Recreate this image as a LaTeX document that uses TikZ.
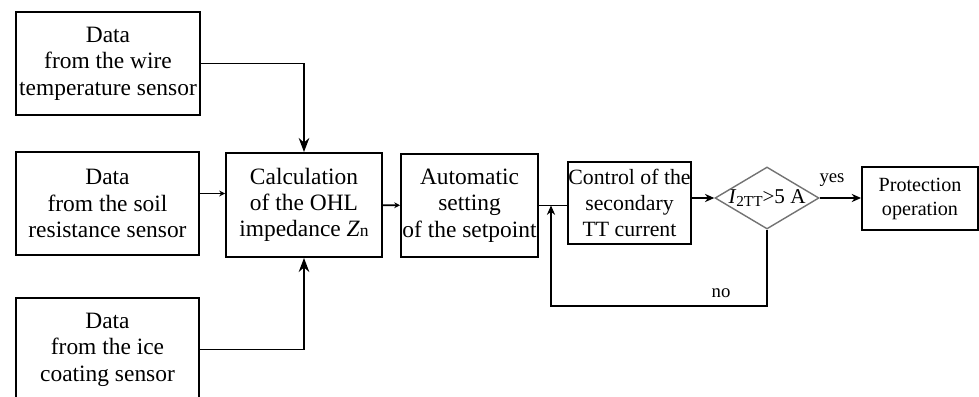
\documentclass[tikz,border=0pt]{standalone}
\usepackage{fontspec}
\setmainfont{Liberation Serif}
\usetikzlibrary{arrows.meta, positioning, shapes.geometric}

\begin{document}
\begin{tikzpicture}[x=0.03cm, y=-0.03cm,
      box/.style={rectangle, draw=black, line width=1.6pt, fill=white,
                  align=center, inner sep=0pt, font=\fontsize{20}{22.5}\selectfont},
      arr/.style={-{Stealth[length=12pt, width=9pt]}, line width=1.6pt},
      arrs/.style={-{Stealth[length=5pt, width=5pt]}, line width=1.6pt},
      arrm/.style={-{Stealth[length=8pt, width=7pt]}, line width=1.6pt},
      lbl/.style={font=\fontsize{16}{18}\selectfont}]
      \useasboundingbox (0,0) rectangle (979,397);
      \clip (0,0) rectangle (979,397);
      % Sensor inputs
      \node[box, minimum width=5.52cm, minimum height=3.09cm] (wire) at (108,63.5) {Data\\from the wire\\temperature sensor};
      \node[box, minimum width=5.49cm, minimum height=3.09cm] (soil) at (107.5,203.5) {Data\\from the soil\\resistance sensor};
      \node[box, minimum width=5.49cm, minimum height=3.09cm] (ice) at (107.5,349.5) {Data\\from the ice\\coating sensor};
      % Main chain
      \node[box, minimum width=4.68cm, minimum height=3.12cm] (calc) at (304,205) {Calculation\\of the OHL\\impedance \textit{Z}{\fontsize{15}{15}\selectfont n}};
      \node[box, minimum width=4.11cm, minimum height=3.09cm] (auto) at (469.5,205.5) {Automatic\\setting\\of the setpoint};
      \node[box, minimum width=3.69cm, minimum height=2.46cm, font=\fontsize{18.6}{22.5}\selectfont] (ctrl) at (629.5,203) {Control of the\\secondary\\TT current};
      \node[diamond, draw=black!55, line width=1.2pt, minimum width=3.12cm, minimum height=1.86cm,
            inner sep=0pt, font=\fontsize{18}{20}\selectfont] (check) at (767,198)
            {\makebox[0pt]{\textit{I}\raisebox{-0.3ex}{\fontsize{13}{13}\selectfont 2TT}>5 A}};
      \node[box, minimum width=3.48cm, minimum height=1.89cm, font=\fontsize{17.2}{20.5}\selectfont] (prot) at (920,198.5) {Protection\\operation};
      % Arrows
      \draw[arr] (wire.east) -| (calc.north);
      \draw[arr] (ice.east) -| (calc.south);
      \draw[arrs] ([yshift=3mm]soil.east) -- ([yshift=3mm]calc.west |- soil.east);
      \draw[arrs] (calc) -- (auto);
      \draw[line width=1.6pt] (auto.east) -- (auto.east -| ctrl.west);
      \draw[arrm] (ctrl.east |- check.west) -- (check.west);
      \draw[arrm] (check.east) -- (check.east -| prot.west);
      % Feedback loop
      \coordinate (fb) at (551,306);
      \draw[arrm] (check.south) |- (fb) -- (fb |- auto.east);
      \node[lbl] (yes) at (832,180) {yes};
      \node[lbl] (no) at (721,293) {no};
   \end{tikzpicture}
\end{document}
